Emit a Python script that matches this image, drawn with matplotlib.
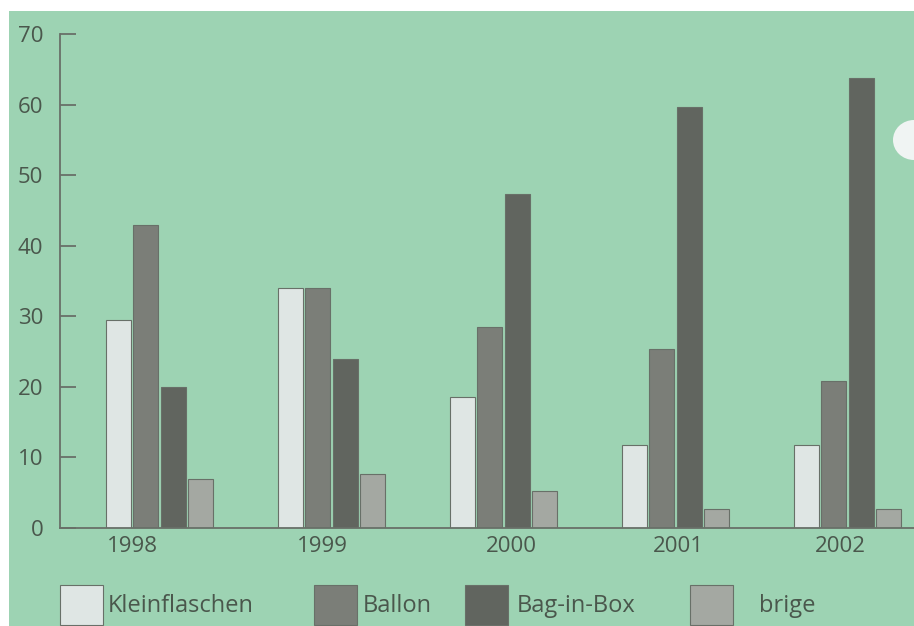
import numpy as np
import matplotlib
matplotlib.use("Agg")
import matplotlib.pyplot as plt
from matplotlib.patches import Rectangle, Ellipse

# Daten
jahre = ["1998", "1999", "2000", "2001", "2002"]
kleinflaschen = [29.5, 34, 18.5, 11.8, 11.8]
ballon = [43, 34, 28.5, 25.4, 20.9]
bag_in_box = [20, 24, 47.3, 59.7, 63.8]
brige = [6.9, 7.6, 5.2, 2.7, 2.7]
serien = ["Kleinflaschen", "Ballon", "Bag-in-Box", "brige"]

# Farben
bg = "#9dd3b3"
farben = ["#dfe6e4", "#7b7e78", "#61655f", "#a4a8a2"]
kante = "#687068"
textfarbe = "#4a574c"

plt.rcParams["font.family"] = ["Open Sans", "DejaVu Sans"]

W, H = 914, 626
fig = plt.figure(figsize=(W / 100, H / 100), dpi=100)
fig.patch.set_facecolor("white")

# gruener Hintergrund (oben und links ein weisser Rand)
fig.add_artist(Rectangle((9 / W, 0), 1, 1 - 11 / H, transform=fig.transFigure,
                         facecolor=bg, edgecolor="none", zorder=0))

# Achse in Pixeln: links 60, unten 528, oben 34, rechts 914
ax = fig.add_axes([60 / W, (H - 528) / H, (W - 60) / W, (528 - 34) / H])
ax.set_facecolor("none")

x = np.arange(len(jahre))
breite = 0.145
schritt = 0.159
daten = [kleinflaschen, ballon, bag_in_box, brige]
for i, (werte, farbe) in enumerate(zip(daten, farben)):
    ax.bar(x + (i - 1.5) * schritt, werte, width=breite, color=farbe,
           edgecolor=kante, linewidth=0.8, zorder=2)

ax.set_ylim(0, 70)
ax.set_xlim(-0.578, 4.387)
ax.set_yticks(range(0, 71, 10))

# Jahreszahlen sitzen nicht genau mittig unter den Gruppen
versatz = [-0.154, -0.052, 0.044, 0.015, -0.041]
ax.set_xticks(x + np.array(versatz))
ax.set_xticklabels(jahre)

for s in ["top", "right"]:
    ax.spines[s].set_visible(False)
for s in ["left", "bottom"]:
    ax.spines[s].set_color(kante)
    ax.spines[s].set_linewidth(1.3)

ax.tick_params(axis="y", direction="in", length=11.5, width=1.3, color=kante,
               pad=12, labelsize=16, labelcolor=textfarbe)
ax.tick_params(axis="x", length=0, pad=6, labelsize=16, labelcolor=textfarbe)

# Legende unten
box_x = [60, 314, 465, 690]
text_x = [108, 363, 517, 759]
for name, farbe, bx, tx in zip(serien, farben, box_x, text_x):
    fig.add_artist(Rectangle((bx / W, (H - 625) / H), 43 / W, 40 / H,
                             transform=fig.transFigure, facecolor=farbe,
                             edgecolor=kante, linewidth=0.8))
    fig.text(tx / W, (H - 606) / H, name, fontsize=17, color=textfarbe,
             va="center", ha="left")

# Lochung am rechten Rand
fig.add_artist(Ellipse((914 / W, (H - 140) / H), 42 / W, 40 / H,
                       transform=fig.transFigure, facecolor="#f0f4f3",
                       edgecolor="none"))

fig.savefig("out.png", dpi=100, facecolor=fig.get_facecolor())
